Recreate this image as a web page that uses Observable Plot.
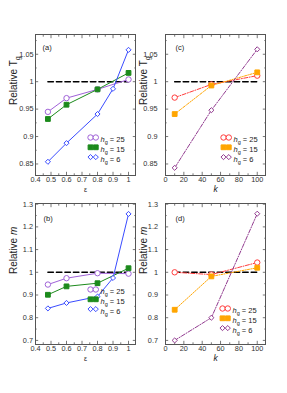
<!DOCTYPE html>
<html><head><meta charset="utf-8">
<script src="https://cdn.jsdelivr.net/npm/d3@7"></script>
<script src="https://cdn.jsdelivr.net/npm/@observablehq/plot@0.6"></script>
<style>
body{margin:0;background:#fff;}
#wrap{position:relative;width:287px;height:393px;overflow:hidden;}
.p{position:absolute;}
</style>
</head><body><div id="wrap"></div>
<script>
// ---------- data ----------
const epsA4 = [0.48, 0.6, 0.8, 1.0];
const epsA5 = [0.48, 0.6, 0.8, 0.9, 1.0];
const kVals = [10, 50, 100];
const hLabels = ["25", "15", "6"];

// (a) relative Tg vs epsilon
const tgEpsH25 = [0.945, 0.970, 0.986, 1.004];
const tgEpsH15 = [0.932, 0.958, 0.986, 1.016];
const tgEpsH6  = [0.854, 0.888, 0.941, 0.987, 1.058];
// (b) relative m vs epsilon
const mEpsH25 = [0.946, 0.974, 0.996, 0.994];
const mEpsH15 = [0.901, 0.938, 0.952, 1.018];
const mEpsH6  = [0.841, 0.865, 0.893, 0.975, 1.257];
// (c) relative Tg vs k
const tgKH25 = [0.971, 0.995, 1.011];
const tgKH15 = [0.941, 0.993, 1.017];
const tgKH6  = [0.843, 0.948, 1.059];
// (d) relative m vs k
const mKH25 = [1.000, 0.990, 1.043];
const mKH15 = [0.835, 0.982, 1.020];
const mKH6  = [0.700, 0.800, 1.258];

// reference line y = 1
const refEps = [0.48, 1.0];
const refK = [10, 102];

// ticks
const epsTicks = [0.4, 0.5, 0.6, 0.7, 0.8, 0.9, 1];
const epsMinor = [0.45, 0.55, 0.65, 0.75, 0.85, 0.95];
const kTicks = [0, 20, 40, 60, 80, 100];
const kMinor = [10, 30, 50, 70, 90];
const tgTicks = [0.85, 0.9, 0.95, 1, 1.05];
const tgMinor = [0.875, 0.925, 0.975, 1.025, 1.075];
const mTicks = [0.7, 0.8, 0.9, 1, 1.1, 1.2, 1.3];
const mMinor = [0.75, 0.85, 0.95, 1.05, 1.15, 1.25];

// ---------- styles ----------
const colEps = ["#a062d8", "#1c8a1c", "#3a4cff"];
const colK = ["#ff3c3c", "#ffa500", "#913a8f"];
const symbols = ["circle", "square", "diamond2"];
const filled = [false, true, false];
const dashK = ["4,1.5,1,1.5", "2,1.3,0.8,1.3", "4,1.5,1,1.5"];
const FONT = "'Liberation Sans', Arial, sans-serif";

function panel(cfg) {
  const marks = [Plot.frame({stroke: "#555", strokeWidth: 1})];
  // ticks (inward) on four sides
  const tk = (len, xt, yt) => [
    Plot.axisX({anchor: "bottom", ticks: xt, tickSize: len, dy: -len, text: null, label: null, stroke: "#555", strokeWidth: 0.8}),
    Plot.axisX({anchor: "top", ticks: xt, tickSize: len, dy: len, text: null, label: null, stroke: "#555", strokeWidth: 0.8}),
    Plot.axisY({anchor: "left", ticks: yt, tickSize: len, dx: len, text: null, label: null, stroke: "#555", strokeWidth: 0.8}),
    Plot.axisY({anchor: "right", ticks: yt, tickSize: len, dx: -len, text: null, label: null, stroke: "#555", strokeWidth: 0.8})
  ];
  marks.push(...tk(3.2, cfg.xMajor, cfg.yMajor), ...tk(1.7, cfg.xMinor, cfg.yMinor));
  // tick labels
  marks.push(
    Plot.axisX({anchor: "bottom", ticks: cfg.xMajor, tickSize: 0, tickPadding: 1.5, tickFormat: d => String(d), label: null, fill: "#333"}),
    Plot.axisY({anchor: "left", ticks: cfg.yMajor, tickSize: 0, tickPadding: cfg.yPad, tickFormat: d => String(d), label: null, fill: "#333"})
  );
  // reference line
  marks.push(Plot.line(cfg.ref.map(x => ({x, y: 1})), {x: "x", y: "y", stroke: "#000", strokeWidth: 1.5, strokeDasharray: "5.5,3"}));
  // series lines
  cfg.series.forEach((s, i) => {
    const rows = s.x.map((x, j) => ({x, y: s.y[j]}));
    marks.push(Plot.line(rows, {x: "x", y: "y", stroke: cfg.colors[i], strokeWidth: 1, strokeDasharray: cfg.dash ? cfg.dash[i] : null}));
  });
  // series markers
  cfg.series.forEach((s, i) => {
    const rows = s.x.map((x, j) => ({x, y: s.y[j]}));
    marks.push(Plot.dot(rows, {x: "x", y: "y", symbol: symbols[i], r: i === 2 ? 2.3 : 2.7,
      stroke: cfg.colors[i], strokeWidth: 1, fill: filled[i] ? cfg.colors[i] : "white"}));
  });
  // legend
  hLabels.forEach((h, i) => {
    const dy = cfg.legY + i * 9.8;
    [0, 5.3].forEach(off => {
      marks.push(Plot.dot([0], {frameAnchor: "top-left", dx: cfg.legX + off, dy, symbol: symbols[i], r: i === 2 ? 2.3 : 2.7,
        stroke: cfg.colors[i], strokeWidth: 1, fill: filled[i] ? cfg.colors[i] : "white"}));
    });
    marks.push(Plot.text(["hg = " + h], {frameAnchor: "top-left", dx: cfg.legX + 10, dy: dy - 0.5, textAnchor: "start", fontSize: 7.5, fill: "#222"}));
  });
  // panel tag
  marks.push(Plot.text([cfg.tag], {frameAnchor: "top-left", dx: cfg.tagX, dy: cfg.tagY, textAnchor: "start", fontSize: 7.5, fill: "#222"}));
  // axis titles
  marks.push(Plot.text([cfg.xLabel], {frameAnchor: "bottom", dy: cfg.xItalic ? 16.5 : 16, fontSize: cfg.xItalic ? 8.5 : 7, fontStyle: cfg.xItalic ? "italic" : "normal", fill: "#222"}));
  marks.push(Plot.text([cfg.yLabel], {frameAnchor: "left", dx: -22, rotate: -90, fontSize: 10, fill: "#222"}));

  const svg = Plot.plot({
    width: 143, height: 195,
    marginLeft: 35, marginRight: 8, marginTop: 34, marginBottom: 20,
    x: {domain: cfg.xDomain},
    y: {domain: cfg.yDomain},
    style: {fontFamily: FONT, fontSize: "7.3px", background: "transparent", color: "#333"},
    marks
  });
  // rich text fixes
  d3.select(svg).selectAll("text").each(function() {
    const t = this.textContent;
    const sel = d3.select(this);
    if (t.startsWith("hg = ")) {
      sel.text(null);
      sel.append("tspan").attr("font-style", "italic").text("h");
      sel.append("tspan").attr("dy", 2).attr("font-size", 5.5).text("g");
      sel.append("tspan").attr("dy", -2).text(" = " + t.slice(5));
    } else if (t === "Relative Tg") {
      sel.text(null);
      sel.append("tspan").text("Relative T");
      sel.append("tspan").attr("dy", 3).attr("font-size", 7).text("g");
    } else if (t === "Relative m") {
      sel.text(null);
      sel.append("tspan").text("Relative ");
      sel.append("tspan").attr("font-style", "italic").text("m");
    }
  });
  svg.classList.add("p");
  svg.style.left = cfg.left + "px";
  svg.style.top = cfg.top + "px";
  document.getElementById("wrap").appendChild(svg);
}

const epsSeries = (a, b, c) => [{x: epsA4, y: a}, {x: epsA4, y: b}, {x: epsA5, y: c}];
const kSeries = (a, b, c) => [{x: kVals, y: a}, {x: kVals, y: b}, {x: kVals, y: c}];

panel({left: 0, top: 0, xDomain: [0.4, 1.045], yDomain: [0.829, 1.086],
  xMajor: epsTicks, xMinor: epsMinor, yMajor: tgTicks, yMinor: tgMinor, yPad: 2,
  ref: refEps, series: epsSeries(tgEpsH25, tgEpsH15, tgEpsH6), colors: colEps,
  legX: 55, legY: 103, tag: "(a)", tagX: 7, tagY: 10, xLabel: "ε", xItalic: false, yLabel: "Relative Tg"});
panel({left: 130, top: 0, xDomain: [0, 109], yDomain: [0.829, 1.086],
  xMajor: kTicks, xMinor: kMinor, yMajor: tgTicks, yMinor: tgMinor, yPad: 8,
  ref: refK, series: kSeries(tgKH25, tgKH15, tgKH6), colors: colK, dash: dashK,
  legX: 58, legY: 103, tag: "(c)", tagX: 10, tagY: 10, xLabel: "k", xItalic: true, yLabel: "Relative Tg"});
panel({left: 0, top: 169, xDomain: [0.4, 1.045], yDomain: [0.682, 1.303],
  xMajor: epsTicks, xMinor: epsMinor, yMajor: mTicks, yMinor: mMinor, yPad: 2.5,
  ref: refEps, series: epsSeries(mEpsH25, mEpsH15, mEpsH6), colors: colEps,
  legX: 55, legY: 86, tag: "(b)", tagX: 8, tagY: 12, xLabel: "ε", xItalic: false, yLabel: "Relative m"});
panel({left: 130, top: 169, xDomain: [0, 109], yDomain: [0.682, 1.303],
  xMajor: kTicks, xMinor: kMinor, yMajor: mTicks, yMinor: mMinor, yPad: 7.5,
  ref: refK, series: kSeries(mKH25, mKH15, mKH6), colors: colK, dash: dashK,
  legX: 57, legY: 105, tag: "(d)", tagX: 10, tagY: 12, xLabel: "k", xItalic: true, yLabel: "Relative m"});
</script>
</body></html>
